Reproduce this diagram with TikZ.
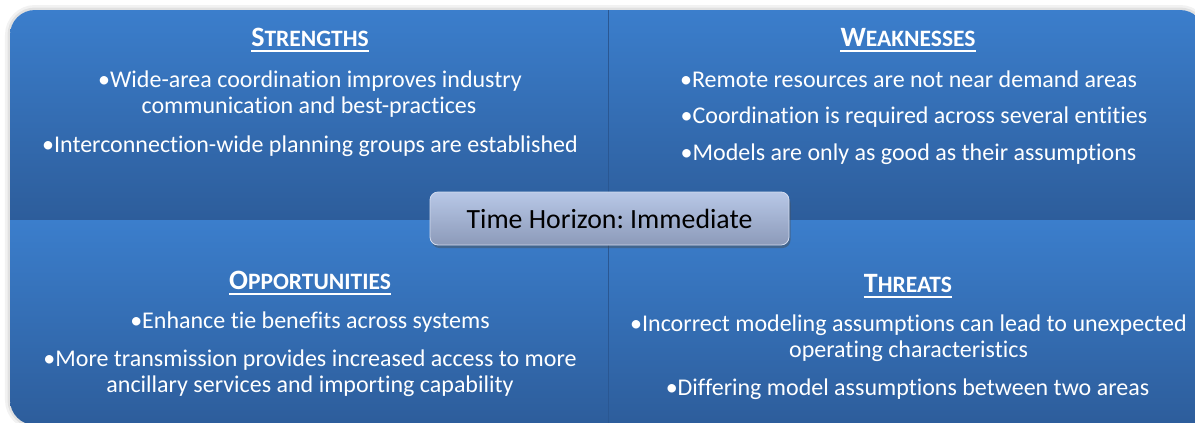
\documentclass[tikz,border=0pt]{standalone}
\usepackage{fontspec}
\setmainfont{Carlito}[Ligatures=NoCommon]
\frenchspacing
\usetikzlibrary{shadows}
\definecolor{qtop}{HTML}{3B7ECC}
\definecolor{qbot}{HTML}{2D5D9B}
\definecolor{qline}{HTML}{2A5792}
\definecolor{btop}{HTML}{B8C8E7}
\definecolor{bbot}{HTML}{8C9AB9}
\definecolor{bedge}{HTML}{D3DCEF}
\newcommand{\swotcap}[2]{{\fontsize{28bp}{28bp}\selectfont #1}{\fontsize{23.5bp}{28bp}\selectfont #2}}
\newcommand{\swotoutline}{(10,35) .. controls (10,21.2) and (21.2,10) .. (35,10) -- (1180,10) .. controls (1193.8,10) and (1205,21.2) .. (1205,35) -- (1205,425) -- (35,425) .. controls (21.2,425) and (10,413.8) .. (10,400) -- cycle}
\tikzset{
  body/.style={anchor=base, inner sep=0pt, text=white, font=\fontsize{24bp}{26bp}\selectfont},
  ttl/.style={anchor=base, inner sep=0pt, text=white, font=\bfseries},
  uline/.style={draw=white, line width=2bp},
  quad/.style={top color=qtop, bottom color=qbot},
  hbox/.style={rounded corners=8bp, top color=btop, bottom color=bbot, draw=bedge, line width=0.8bp,
    minimum width=359bp, minimum height=53bp, inner sep=0pt, text=black,
    font=\fontsize{27.8bp}{30bp}\selectfont,
    drop shadow={shadow xshift=1.5bp, shadow yshift=-3bp, opacity=0.45, fill=black!70}},
}
\begin{document}
\begin{tikzpicture}[x=1bp,y=-1bp]
\useasboundingbox (0,0) rectangle (1195,422);
\clip (0,0) rectangle (1195,422);
% soft halo
\draw[black, opacity=0.05, line width=10bp] \swotoutline;
\draw[black, opacity=0.07, line width=5bp] \swotoutline;
\begin{scope}
  \clip \swotoutline;
  \shade[quad] (10,10) rectangle (608,220);
  \shade[quad] (608,10) rectangle (1205,220);
  \shade[quad] (10,220) rectangle (608,425);
  \shade[quad] (608,220) rectangle (1205,425);
  \draw[qline, line width=1bp] (608,10) -- (608,425);
\end{scope}

% Strengths
\node[ttl] (st) at (310,46) {\swotcap{S}{TRENGTHS}};
\draw[uline] ([yshift=-4.5bp]st.base west) -- ([yshift=-4.5bp]st.base east);
\node[body] (s1) at (310,87) {•Wide-area coordination improves industry};
\node[body] (s2) at (309,113) {communication and best-practices};
\node[body] (s3) at (310,152) {•Interconnection-wide planning groups are established};

% Weaknesses
\node[ttl] (wt) at (908,46) {\swotcap{W}{EAKNESSES}};
\draw[uline] ([yshift=-4.5bp]wt.base west) -- ([yshift=-4.5bp]wt.base east);
\node[body] (w1) at (908.5,87) {•Remote resources are not near demand areas};
\node[body] (w2) at (914,123) {•Coordination is required across several entities};
\node[body] (w3) at (908.5,160) {•Models are only as good as their assumptions};

% Opportunities
\node[ttl] (ot) at (310,289) {\swotcap{O}{PPORTUNITIES}};
\draw[uline] ([yshift=-4.5bp]ot.base west) -- ([yshift=-4.5bp]ot.base east);
\node[body] (o1) at (310,328) {•Enhance tie benefits across systems};
\node[body] (o2) at (310,366) {•More transmission provides increased access to more};
\node[body] (o3) at (310,392) {ancillary services and importing capability};

% Threats
\node[ttl] (tt) at (908,292) {\swotcap{T}{HREATS}};
\draw[uline] ([yshift=-4.5bp]tt.base west) -- ([yshift=-4.5bp]tt.base east);
\node[body] (t1) at (908.5,331) {•Incorrect modeling assumptions can lead to unexpected};
\node[body] (t2) at (908.5,357) {operating characteristics};
\node[body] (t3) at (907.5,395) {•Differing model assumptions between two areas};

% centre label
\node[hbox] (th) at (609.5,218.5) {Time Horizon: Immediate};
\end{tikzpicture}
\end{document}
